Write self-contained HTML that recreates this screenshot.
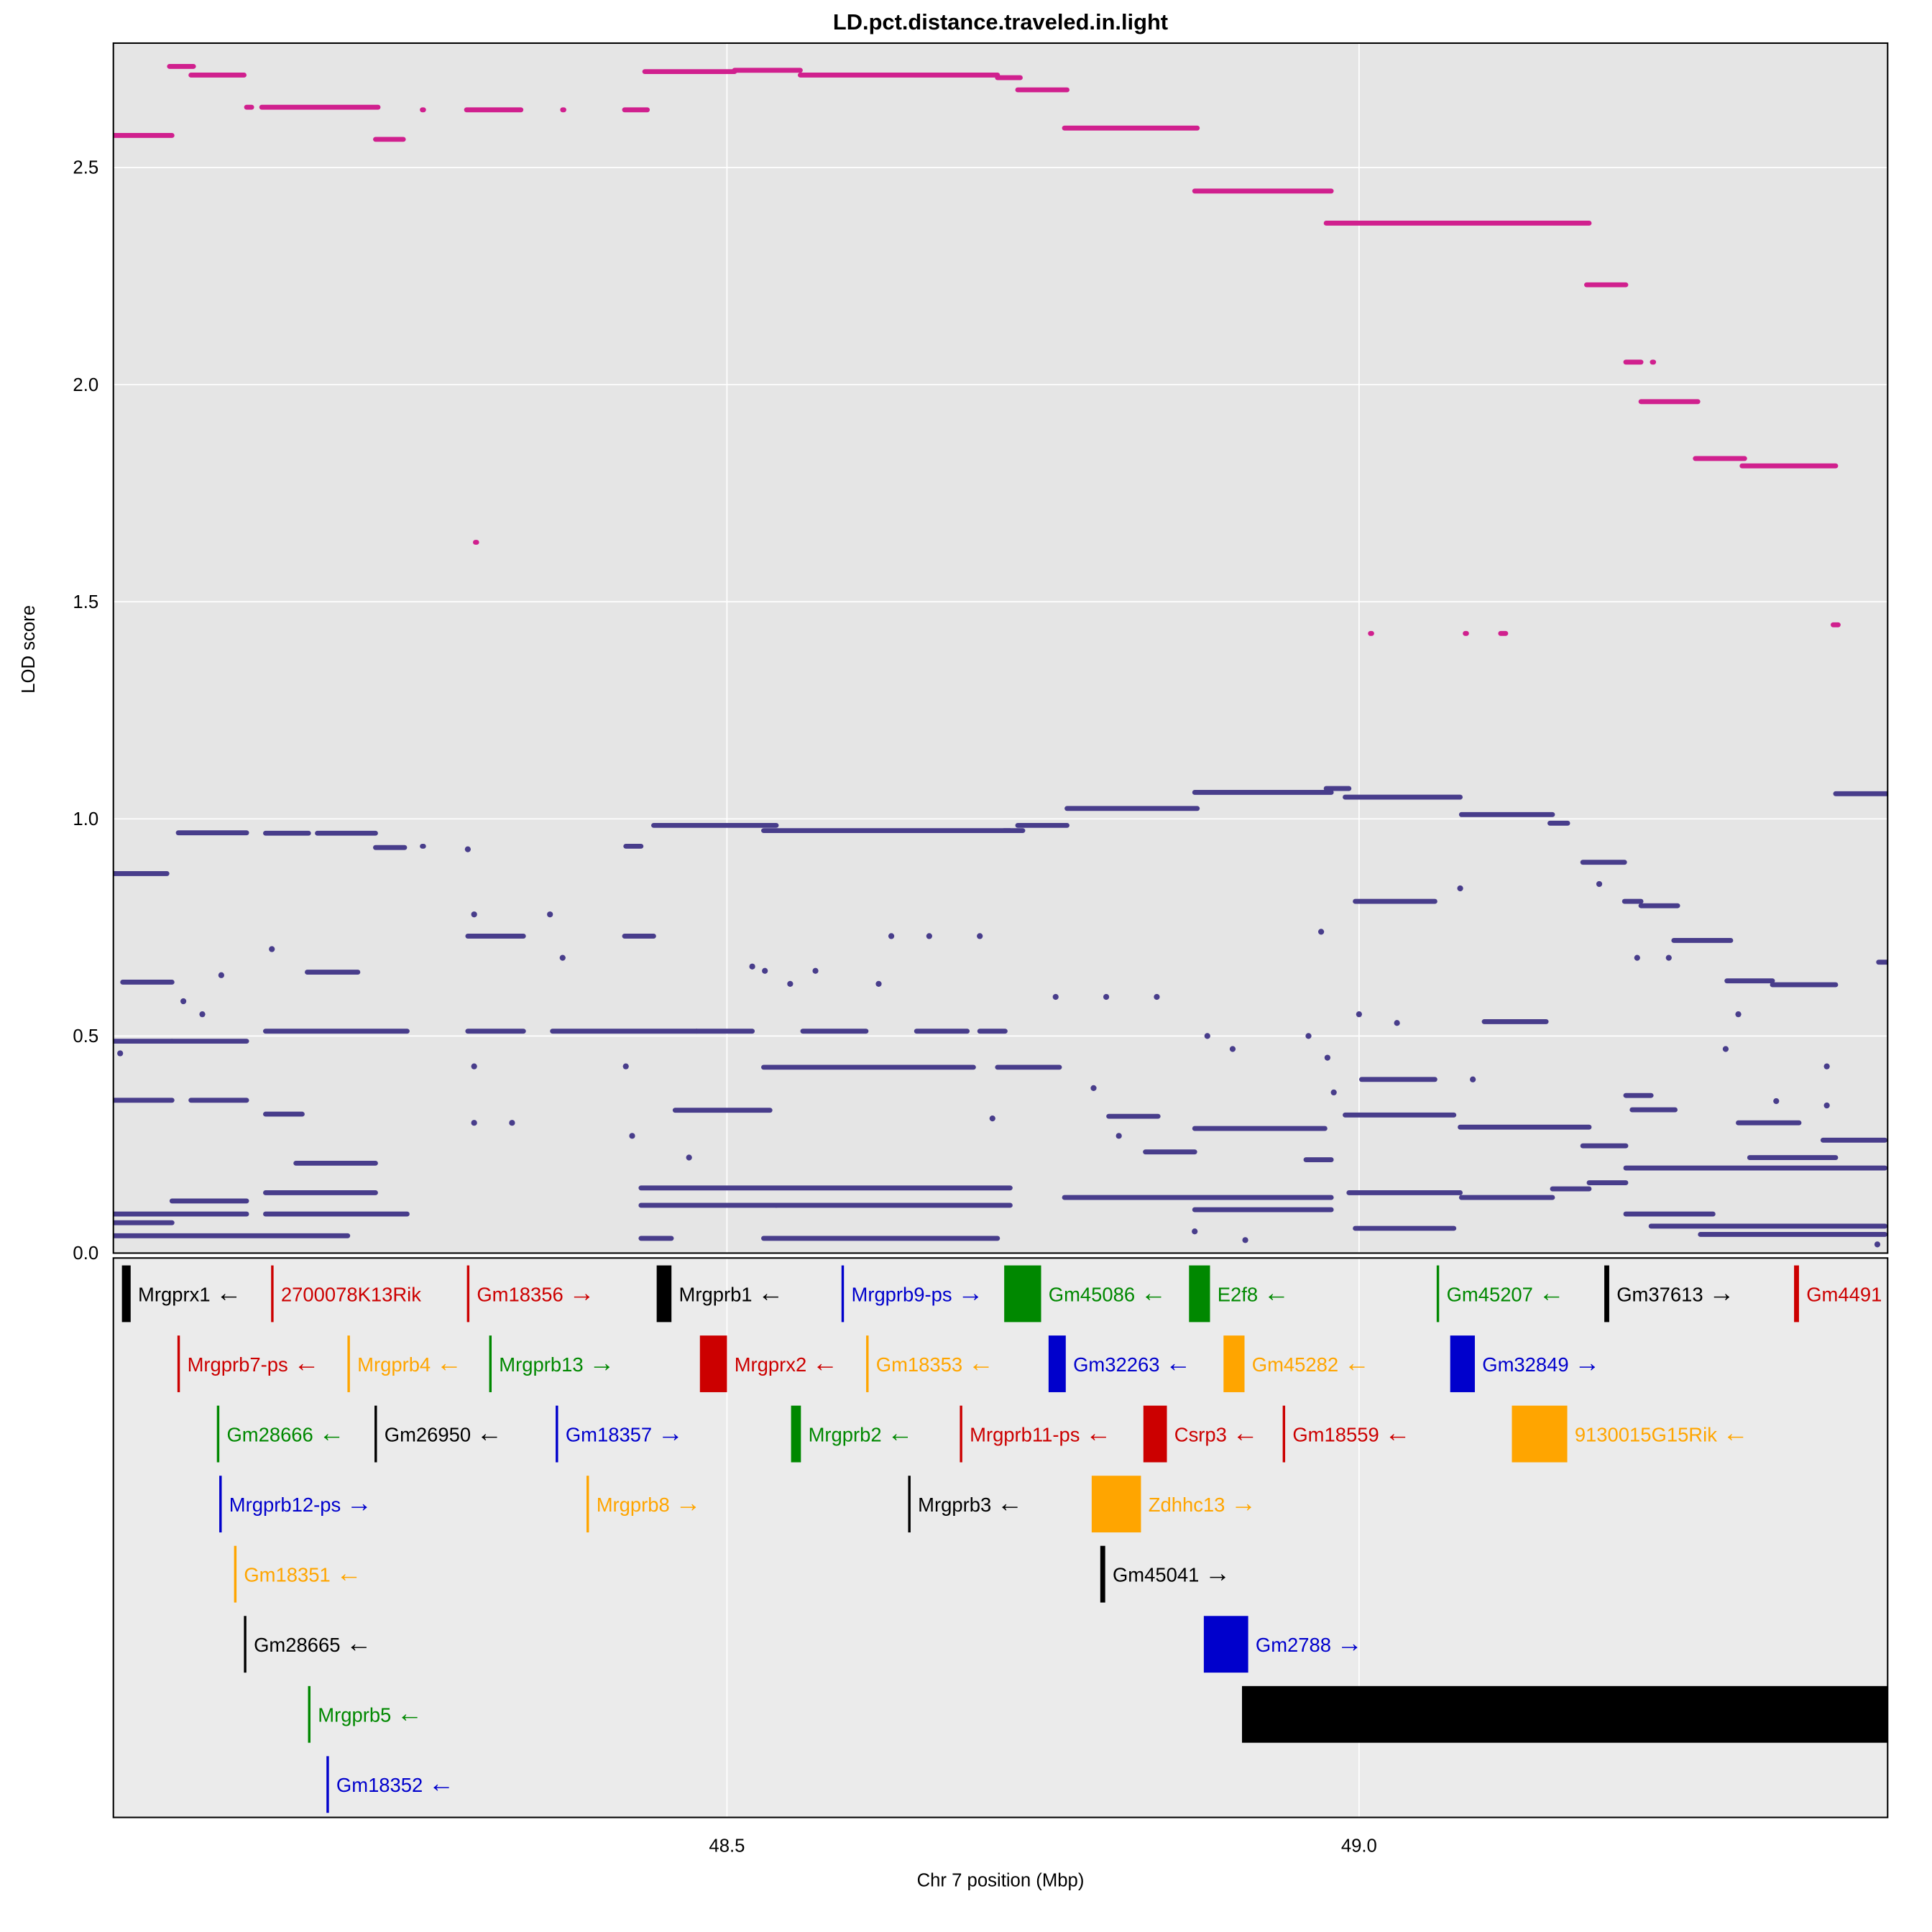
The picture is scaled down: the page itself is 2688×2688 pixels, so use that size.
<!DOCTYPE html>
<html><head><meta charset="utf-8"><style>
html,body{margin:0;padding:0;background:#fff}
svg{display:block}
text{font-family:"Liberation Sans",sans-serif}
</style></head><body>
<svg id="chart" xmlns="http://www.w3.org/2000/svg" width="2688" height="2688" viewBox="0 0 1568 1568">
<rect x="0" y="0" width="1568" height="1568" fill="#fff"/>
<text x="812" y="24" text-anchor="middle" font-size="18" font-weight="bold">LD.pct.distance.traveled.in.light</text>
<rect x="92" y="35" width="1440" height="982" fill="#e5e5e5"/>
<rect x="92" y="1021" width="1440" height="454" fill="#ebebeb"/>
<defs>
<clipPath id="cTop"><rect x="92" y="35" width="1440" height="982"/></clipPath>
<clipPath id="cGene"><rect x="92" y="1021" width="1440" height="454"/></clipPath>
</defs>
<g id="grid"></g>
<g id="marks" clip-path="url(#cTop)"></g>
<g id="genes" clip-path="url(#cGene)"></g>
<rect x="92" y="35" width="1440" height="982" fill="none" stroke="#000" stroke-width="1.2"/>
<rect x="92" y="1021" width="1440" height="454" fill="none" stroke="#000" stroke-width="1.2"/>
<g id="axes"></g>
<text transform="translate(28,527) rotate(-90)" text-anchor="middle" font-size="15">LOD score</text>
<text x="812" y="1531" text-anchor="middle" font-size="15">Chr 7 position (Mbp)</text>
</svg>
<script>
const xTicks = [48.5, 49.0];
const xTickLabels = ["48.5", "49.0"];
const yTicks = [0, 0.5, 1.0, 1.5, 2.0, 2.5];
const yTickLabels = ["0.0", "0.5", "1.0", "1.5", "2.0", "2.5"];

// pink series segments: start Mbp, end Mbp, LOD
const pinkStart = [48.015,48.059,48.076,48.120,48.132,48.222,48.259,48.294,48.370,48.301,48.419,48.435,48.506,48.558,48.714,48.730,48.767,48.870,48.974,49.180,49.211,49.232,49.223,49.266,49.303,49.375,49.009,49.084,49.112];
const pinkEnd   = [48.061,48.078,48.118,48.124,48.224,48.244,48.260,48.337,48.371,48.302,48.437,48.506,48.558,48.714,48.732,48.769,48.872,48.978,49.182,49.211,49.223,49.233,49.268,49.305,49.377,49.379,49.010,49.085,49.116];
const pinkLod   = [2.574,2.733,2.713,2.639,2.639,2.565,2.633,2.633,2.633,1.637,2.633,2.721,2.724,2.713,2.707,2.679,2.591,2.446,2.372,2.230,2.052,2.052,1.961,1.830,1.813,1.447,1.427,1.427,1.427];

// purple series segments
const purpleStart = [48.015,48.066,48.135,48.176,48.222,48.259,48.420,48.442,48.529,48.719,48.730,48.769,48.870,48.974,48.989,49.081,49.151,49.177,49.210,49.223,49.249,49.291,49.327,49.377,49.411,
48.015,48.061,48.135,48.295,48.362,48.476,48.560,48.650,48.700,48.022,48.168,48.295,48.419,48.529,48.714,48.459,48.015,48.076,48.135,48.159,48.135,48.432,48.432,48.539,48.529,48.432,48.015,48.015,48.015,48.061,48.135,
48.767,48.870,48.992,49.081,49.153,48.989,48.997,49.182,49.211,49.231,49.270,48.870,49.080,49.177,49.211,49.002,48.802,48.831,49.099,48.997,49.211,49.309,49.300,49.216,48.958,49.367];
const purpleEnd = [48.057,48.120,48.169,48.222,48.245,48.260,48.432,48.539,48.724,48.734,48.769,48.872,48.978,48.992,49.080,49.153,49.165,49.210,49.223,49.252,49.294,49.327,49.377,49.418,49.418,
48.061,48.120,48.247,48.339,48.476,48.520,48.610,48.690,48.720,48.061,48.208,48.339,48.442,48.695,48.763,48.534,48.061,48.120,48.164,48.222,48.222,48.724,48.539,48.724,48.714,48.456,48.120,48.061,48.200,48.120,48.247,
48.978,48.978,49.080,49.153,49.182,49.075,49.075,49.211,49.416,49.416,49.416,48.973,49.182,49.211,49.231,49.060,48.841,48.870,49.148,49.060,49.280,49.377,49.348,49.250,48.978,49.416];
const purpleLod = [0.874,0.968,0.967,0.967,0.934,0.937,0.937,0.985,0.973,0.973,0.985,1.024,1.061,1.070,1.050,1.010,0.990,0.900,0.810,0.800,0.720,0.627,0.618,1.058,0.670,
0.488,0.488,0.511,0.511,0.511,0.511,0.511,0.511,0.511,0.624,0.647,0.730,0.730,0.428,0.428,0.329,0.352,0.352,0.320,0.207,0.139,0.150,0.110,0.110,0.034,0.034,0.090,0.070,0.040,0.120,0.090,
0.128,0.100,0.139,0.128,0.148,0.318,0.057,0.162,0.196,0.062,0.043,0.287,0.290,0.247,0.363,0.400,0.315,0.233,0.533,0.810,0.090,0.220,0.300,0.330,0.215,0.260];

// scattered purple points
const dotPos = [48.020,48.070,48.085,48.100,48.140,48.295,48.300,48.300,48.300,48.330,48.360,48.370,48.420,48.425,48.470,48.520,48.530,48.630,48.710,48.660,48.700,48.760,48.800,48.840,48.870,48.880,48.900,48.910,48.960,48.970,48.975,48.980,49.000,49.030,49.080,49.090,49.190,49.220,49.245,49.290,49.300,49.330,49.370,49.370,49.410,48.810,48.790,48.620,48.570,48.550];
const dotLod = [0.46,0.58,0.55,0.64,0.70,0.93,0.78,0.43,0.30,0.30,0.78,0.68,0.43,0.27,0.22,0.66,0.65,0.73,0.31,0.73,0.73,0.59,0.59,0.59,0.05,0.50,0.47,0.03,0.50,0.74,0.45,0.37,0.55,0.53,0.84,0.40,0.85,0.68,0.68,0.47,0.55,0.35,0.43,0.34,0.02,0.27,0.38,0.62,0.65,0.62];

// genes
const geneNames = ["Mrgprx1","2700078K13Rik","Gm18356","Mrgprb1","Mrgprb9-ps","Gm45086","E2f8","Gm45207","Gm37613","Gm4491",
"Mrgprb7-ps","Mrgprb4","Mrgprb13","Mrgprx2","Gm18353","Gm32263","Gm45282","Gm32849",
"Gm28666","Gm26950","Gm18357","Mrgprb2","Mrgprb11-ps","Csrp3","Gm18559","9130015G15Rik",
"Mrgprb12-ps","Mrgprb8","Mrgprb3","Zdhhc13","Gm18351","Gm45041","Gm28665","Gm2788","Mrgprb5","","Gm18352"];
const geneStart = [48.0214,48.1394,48.2943,48.4444,48.5906,48.7193,48.8655,49.0614,49.1940,49.3441,
48.0653,48.1998,48.3119,48.4786,48.6101,48.7544,48.8928,49.0721,
48.0965,48.2212,48.3645,48.5507,48.6842,48.8294,48.9396,49.1209,
48.0984,48.3889,48.6433,48.7885,48.1101,48.7953,48.1179,48.8772,48.1686,48.9074,48.1832];
const geneEnd = [48.0283,48.1394,48.2943,48.4561,48.5906,48.7485,48.8821,49.0614,49.1979,49.3480,
48.0653,48.1998,48.3119,48.5000,48.6101,48.7680,48.9094,49.0916,
48.0965,48.2212,48.3645,48.5585,48.6842,48.8480,48.9396,49.1647,
48.0984,48.3889,48.6433,48.8275,48.1101,48.7992,48.1179,48.9123,48.1686,49.5000,48.1832];
const geneRow = [0,0,0,0,0,0,0,0,0,0, 1,1,1,1,1,1,1,1, 2,2,2,2,2,2,2,2, 3,3,3,3, 4,4, 5,5, 6,6, 7];
const geneStrand = ["-","","+","-","+","-","-","-","+","",
"-","-","+","-","-","-","-","+",
"-","-","+","-","-","-","-","-",
"+","+","-","+","-","+","-","+","-","","-"];
const geneColor = ["#000","#cc0000","#cc0000","#000","#0000cc","#008800","#008800","#008800","#000","#cc0000",
"#cc0000","#ffa500","#008800","#cc0000","#ffa500","#0000cc","#ffa500","#0000cc",
"#008800","#000","#0000cc","#008800","#cc0000","#cc0000","#cc0000","#ffa500",
"#0000cc","#ffa500","#000","#ffa500","#ffa500","#000","#000","#0000cc","#008800","#000","#0000cc"];

const X0=48.5, PX0=590, PXPER=1026;
const Y0PX=1017, YPER=352.4;
function xs(v){return PX0+(v-X0)*PXPER;}
function ys(v){return Y0PX-v*YPER;}
const NS="http://www.w3.org/2000/svg";
function mk(tag, attrs, parent){const e=document.createElementNS(NS,tag);for(const k in attrs)e.setAttribute(k,attrs[k]);parent.appendChild(e);return e;}

const grid=document.getElementById('grid');
const axes=document.getElementById('axes');
yTicks.forEach((t,i)=>{
  const l=mk('line',{x1:92,x2:1532,y1:ys(t),y2:ys(t),stroke:'#fff','stroke-width':1},grid);
  
  
  const tx=mk('text',{x:80,y:ys(t)+5,'text-anchor':'end','font-size':15},axes);
  tx.textContent=yTickLabels[i];
  
  
});
xTicks.forEach((t,i)=>{
  const l=mk('line',{x1:xs(t),x2:xs(t),y1:35,y2:1475,stroke:'#fff','stroke-width':1},grid);
  
  
  const tx=mk('text',{x:xs(t),y:1503,'text-anchor':'middle','font-size':15},axes);
  tx.textContent=xTickLabels[i];
  
  
});

const marks=document.getElementById('marks');
purpleStart.forEach((s,i)=>{
  const l=mk('line',{x1:xs(s),x2:xs(purpleEnd[i]),y1:ys(purpleLod[i]),y2:ys(purpleLod[i]),stroke:'#483d8b','stroke-width':4,'stroke-linecap':'round'},marks);
  
  
});
dotPos.forEach((p,i)=>{
  const c=mk('circle',{cx:xs(p),cy:ys(dotLod[i]),r:2.4,fill:'#483d8b'},marks);
  
  
});
pinkStart.forEach((s,i)=>{
  const l=mk('line',{x1:xs(s),x2:xs(pinkEnd[i]),y1:ys(pinkLod[i]),y2:ys(pinkLod[i]),stroke:'#d0208e','stroke-width':4,'stroke-linecap':'round'},marks);
  
  
});

const genes=document.getElementById('genes');
geneNames.forEach((n,i)=>{
  const cy=1050+geneRow[i]*56.9;
  const x1=xs(geneStart[i]);
  let w=xs(geneEnd[i])-x1; if(w<2)w=2;
  const r=mk('rect',{x:x1,y:cy-23,width:w,height:46,fill:geneColor[i]},genes);
  
  
  if(n){
    const t=mk('text',{x:x1+w+6,y:cy+6,'font-size':16,fill:geneColor[i]},genes);
    t.appendChild(document.createTextNode(n+' '));
    if(geneStrand[i]){
      const a=mk('tspan',{'font-size':21},t);
      a.textContent=geneStrand[i]==='+'?'\u2192':'\u2190';
    }
    
    
  }
});
</script>
</body></html>
